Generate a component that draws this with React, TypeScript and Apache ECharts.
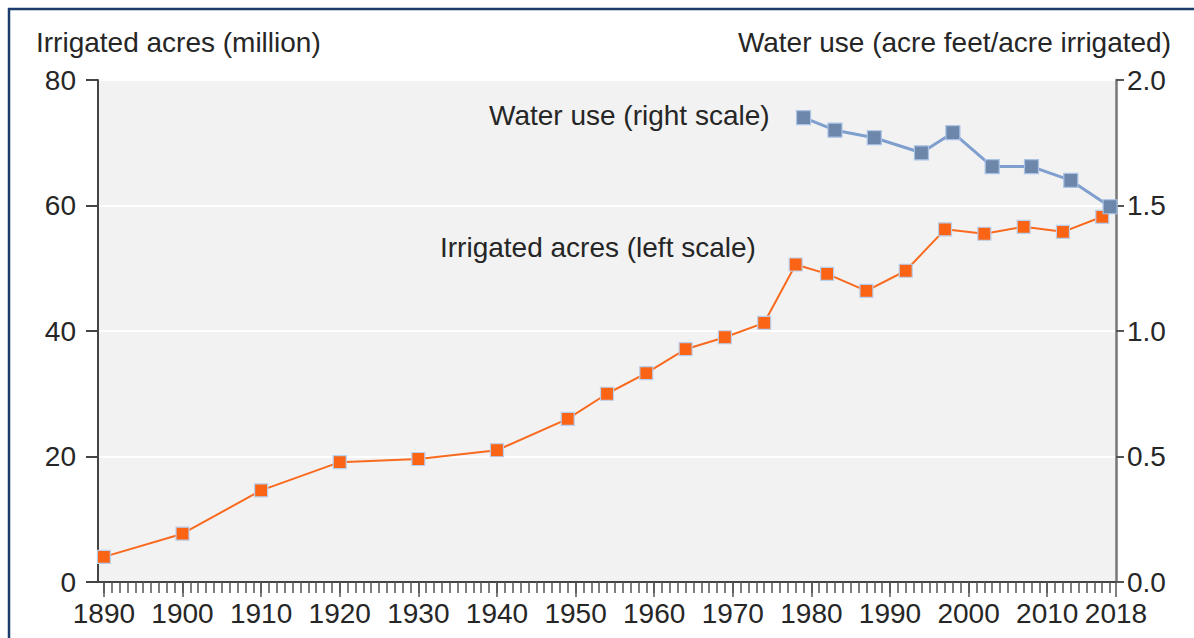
import React, { useEffect, useRef } from "react";
import * as echarts from "echarts";

const irrYears = [1890, 1900, 1910, 1920, 1930, 1940, 1949, 1954, 1959, 1964, 1969, 1974, 1978, 1982, 1987, 1992, 1997, 2002, 2007, 2012, 2017];
const irrAcres = [4.0, 7.7, 14.6, 19.1, 19.6, 21.0, 26.0, 30.0, 33.3, 37.1, 39.0, 41.3, 50.6, 49.1, 46.4, 49.6, 56.2, 55.5, 56.6, 55.8, 58.2];
const waterYears = [1979, 1983, 1988, 1994, 1998, 2003, 2008, 2013, 2018];
const waterUse = [1.85, 1.8, 1.77, 1.71, 1.79, 1.655, 1.655, 1.6, 1.495];

const X_MIN = 1889.25;
const X_MAX = 2018.75;
const xLabelValues = [1890, 1900, 1910, 1920, 1930, 1940, 1950, 1960, 1970, 1980, 1990, 2000, 2010, X_MAX];
const leftTitle = "Irrigated acres (million)";
const rightTitle = "Water use (acre feet/acre irrigated)";
const waterNote = "Water use (right scale)";
const irrNote = "Irrigated acres (left scale)";

const FONT = "'Liberation Sans', Arial, sans-serif";
const TXT = "#262626";
const FS = 28;

export default function App() {
  const ref = useRef<HTMLDivElement>(null);
  useEffect(() => {
    if (!ref.current) return;
    const chart = echarts.init(ref.current, undefined, { renderer: "svg" });
    const yearTicks: number[] = [];
    for (let y = 1890; y <= 2018; y++) yearTicks.push(y);
    const decadeTicks: number[] = [];
    for (let y = 1890; y <= 2010; y += 10) decadeTicks.push(y);
    decadeTicks.push(X_MAX);

    chart.setOption({
      animation: false,
      backgroundColor: "#ffffff",
      textStyle: { fontFamily: FONT },
      grid: {
        left: 98,
        right: 78,
        top: 80,
        bottom: 56,
        show: true,
        backgroundColor: "#f2f2f2",
        borderWidth: 0,
      },
      xAxis: [
        {
          type: "value",
          min: X_MIN,
          max: X_MAX,
          position: "bottom",
          splitLine: { show: false },
          axisLine: { show: true, onZero: false, lineStyle: { color: "#444", width: 2 } },
          axisTick: {
            show: true,
            customValues: yearTicks,
            length: 11,
            lineStyle: { color: "#555", width: 1.5 },
          },
          axisLabel: {
            customValues: xLabelValues,
            formatter: (v: number) => (v > 2018 ? "2018" : String(Math.round(v))),
            fontSize: FS,
            color: TXT,
            margin: 17,
            fontFamily: FONT,
            hideOverlap: false,
          },
        },
        {
          type: "value",
          min: X_MIN,
          max: X_MAX,
          position: "bottom",
          splitLine: { show: false },
          axisLine: { show: false, onZero: false },
          axisTick: {
            show: true,
            customValues: decadeTicks,
            length: 15,
            lineStyle: { color: "#555", width: 1.5 },
          },
          axisLabel: { show: false },
        },
      ],
      yAxis: [
        {
          type: "value",
          min: 0,
          max: 80,
          interval: 20,
          position: "left",
          axisLine: { show: true, onZero: false, lineStyle: { color: "#444", width: 2 } },
          axisTick: { show: true, length: 12, lineStyle: { color: "#444", width: 2 } },
          axisLabel: { fontSize: FS, color: TXT, margin: 22, fontFamily: FONT },
          splitLine: { show: true, lineStyle: { color: "#ffffff", width: 2 } },
        },
        {
          type: "value",
          min: 0,
          max: 2,
          interval: 0.5,
          position: "right",
          axisLine: { show: true, onZero: false, lineStyle: { color: "#777", width: 2.5 } },
          axisTick: { show: true, length: 8, lineStyle: { color: "#555", width: 2 } },
          axisLabel: {
            fontSize: FS,
            color: TXT,
            margin: 11,
            fontFamily: FONT,
            formatter: (v: number) => v.toFixed(1),
          },
          splitLine: { show: false },
        },
      ],
      series: [
        {
          type: "line",
          name: irrNote,
          xAxisIndex: 0,
          yAxisIndex: 0,
          data: irrYears.map((y, i) => [y, irrAcres[i]]),
          symbol: "rect",
          symbolSize: 13,
          clip: false,
          lineStyle: { color: "#f96a1f", width: 2 },
          itemStyle: { color: "#fa6414", borderColor: "#b9cfee", borderWidth: 1.2 },
          z: 3,
        },
        {
          type: "line",
          name: waterNote,
          xAxisIndex: 0,
          yAxisIndex: 1,
          data: waterYears.map((y, i) => [y, waterUse[i]]),
          symbol: "rect",
          symbolSize: 14,
          clip: false,
          lineStyle: { color: "#7f9fce", width: 3 },
          itemStyle: { color: "#6d87aa", borderColor: "#a9c2e6", borderWidth: 1.2 },
          z: 4,
        },
      ],
      graphic: [
        {
          type: "line",
          shape: { x1: 8, y1: 9, x2: 1194, y2: 9 },
          style: { stroke: "#1d3c6e", lineWidth: 2.5 },
        },
        {
          type: "line",
          shape: { x1: 9, y1: 8, x2: 9, y2: 638 },
          style: { stroke: "#1d3c6e", lineWidth: 2.5 },
        },
        {
          type: "text",
          left: 36,
          top: 28,
          style: { text: leftTitle, fontSize: FS, fill: TXT, fontFamily: FONT },
        },
        {
          type: "text",
          right: 23,
          top: 28,
          style: { text: rightTitle, fontSize: FS, fill: TXT, fontFamily: FONT },
        },
        {
          type: "text",
          left: 489,
          top: 101,
          z: 10,
          style: { text: waterNote, fontSize: FS, fill: TXT, fontFamily: FONT },
        },
        {
          type: "text",
          left: 440,
          top: 233,
          z: 10,
          style: { text: irrNote, fontSize: FS, fill: TXT, fontFamily: FONT },
        },
      ],
    });
    return () => chart.dispose();
  }, []);
  return (
    <div
      ref={ref}
      style={{ position: "fixed", left: 0, top: 0, width: 1194, height: 638 }}
    />
  );
}
